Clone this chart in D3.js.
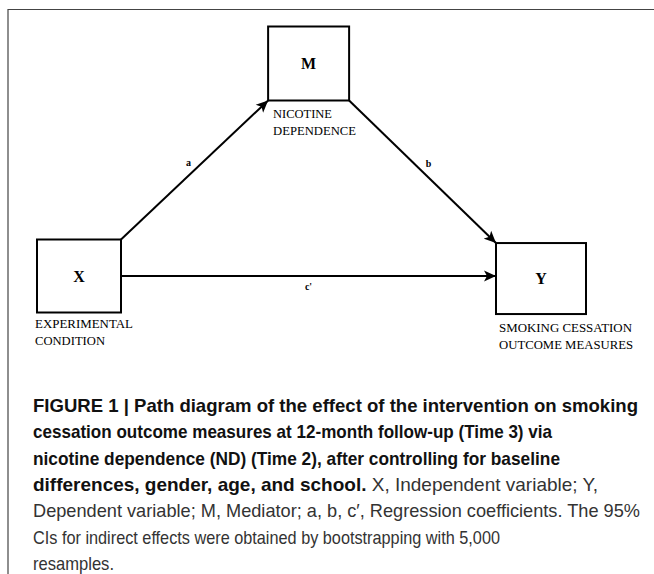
<!DOCTYPE html>
<html><head><meta charset="utf-8">
<script src="https://cdn.jsdelivr.net/npm/d3@7"></script>
<style>body{margin:0;background:#fff}svg{display:block}</style>
</head><body><svg id="c" width="654" height="574"></svg>
<script>
// ---- data ----
const nodeIds = ["X", "M", "Y"];
const nodeLabels = [["EXPERIMENTAL", "CONDITION"], ["NICOTINE", "DEPENDENCE"], ["SMOKING CESSATION", "OUTCOME MEASURES"]];
const edgeFrom = ["X", "M", "X"];
const edgeTo = ["M", "Y", "Y"];
const edgeLabels = ["a", "b", "c'"];
const captionBold = [
  "FIGURE 1 | Path diagram of the effect of the intervention on smoking",
  "cessation outcome measures at 12-month follow-up (Time 3) via",
  "nicotine dependence (ND) (Time 2), after controlling for baseline",
  "differences, gender, age, and school."
];
const captionNormal = [
  "",
  "",
  "",
  " X, Independent variable; Y,",
  "Dependent variable; M, Mediator; a, b, c\u2032, Regression coefficients. The 95%",
  "CIs for indirect effects were obtained by bootstrapping with 5,000",
  "resamples."
];

// ---- layout ----
const svg = d3.select("#c");
const W = 654, H = 574;
svg.append("path").attr("d", `M8,${H} L8,9.5 L${W},9.5`).attr("fill", "none").attr("stroke", "#444").attr("stroke-width", 1.2);

// scales map a 0..1 diagram grid onto the figure area
const sx = d3.scaleLinear().domain([0, 1]).range([79, 541]);
const sy = d3.scaleLinear().domain([0, 1]).range([63.5, 276]);
const geom = {
  X: {cx: sx(0), cy: sy(1), w: 84, h: 73},
  M: {cx: sx(0.497), cy: sy(0), w: 81, h: 74},
  Y: {cx: sx(1), cy: sy(1.012), w: 90, h: 71}
};
const labelWidths = {X: [98, 70], M: [59, 83], Y: [133, 134]};
const labelAnchorX = {X: 35, M: 273, Y: 499};
const labelBase = {X: [328, 345], M: [118, 135], Y: [332, 349]};

svg.append("defs").append("marker").attr("id", "ah")
  .attr("viewBox", "0 0 10 10").attr("refX", 10).attr("refY", 5)
  .attr("markerWidth", 12).attr("markerHeight", 12).attr("markerUnits", "userSpaceOnUse")
  .attr("orient", "auto")
  .append("path").attr("d", "M0,0.5 L10,5 L0,9.5 L2.5,5 Z").attr("fill", "#000");

function corner(id, sxn, syn) {
  const g = geom[id];
  return [g.cx + sxn * g.w / 2, g.cy + syn * g.h / 2];
}
function endpoints(f, t) {
  if (f === "X" && t === "M") return [corner("X", 1, -1), corner("M", -1, 1)];
  if (f === "M" && t === "Y") return [corner("M", 1, 1), corner("Y", -1, -1)];
  const a = corner("X", 1, 0), b = corner("Y", -1, 0);
  return [a, [b[0], a[1]]];
}

edgeFrom.forEach((f, i) => {
  const [p, q] = endpoints(f, edgeTo[i]);
  svg.append("line").attr("x1", p[0]).attr("y1", p[1]).attr("x2", q[0]).attr("y2", q[1])
    .attr("stroke", "#000").attr("stroke-width", 2).attr("marker-end", "url(#ah)");
  const mx = (p[0] + q[0]) / 2, my = (p[1] + q[1]) / 2;
  const off = [[-6, -4], [6, -5], [0, 14]][i];
  svg.append("text").attr("x", mx + off[0]).attr("y", my + off[1])
    .attr("text-anchor", "middle").attr("font-family", "Liberation Serif, serif")
    .attr("font-weight", "bold").attr("font-size", 10).text(edgeLabels[i]);
});

nodeIds.forEach((id, i) => {
  const g = geom[id];
  svg.append("rect").attr("x", g.cx - g.w / 2).attr("y", g.cy - g.h / 2)
    .attr("width", g.w).attr("height", g.h).attr("fill", "#fff")
    .attr("stroke", "#000").attr("stroke-width", 2);
  svg.append("text").attr("x", g.cx).attr("y", g.cy + 5.5).attr("text-anchor", "middle")
    .attr("font-family", "Liberation Serif, serif").attr("font-weight", "bold")
    .attr("font-size", 16).text(id);
  nodeLabels[i].forEach((s, j) => {
    svg.append("text").attr("x", labelAnchorX[id]).attr("y", labelBase[id][j])
      .attr("font-family", "Liberation Serif, serif").attr("font-size", 11.5)
      .attr("textLength", labelWidths[id][j]).attr("lengthAdjust", "spacingAndGlyphs")
      .attr("fill", "#000").text(s);
  });
});

// caption
const capWidths = [605, 519, 527, 565, 607, 467, 81];
const nLines = captionNormal.length;
for (let i = 0; i < nLines; i++) {
  const t = svg.append("text").attr("x", 33).attr("y", 412 + i * 26.3)
    .attr("font-family", "Liberation Sans, Arial, sans-serif")
    .attr("font-size", 18.5).attr("fill", "#222");
  if (captionBold[i]) t.append("tspan").attr("font-weight", "bold").attr("fill", "#111").text(captionBold[i]);
  if (captionNormal[i]) t.append("tspan").attr("fill", "#333").text(captionNormal[i]);
  if (capWidths[i]) t.attr("textLength", capWidths[i]).attr("lengthAdjust", "spacingAndGlyphs");
}
</script></body></html>
